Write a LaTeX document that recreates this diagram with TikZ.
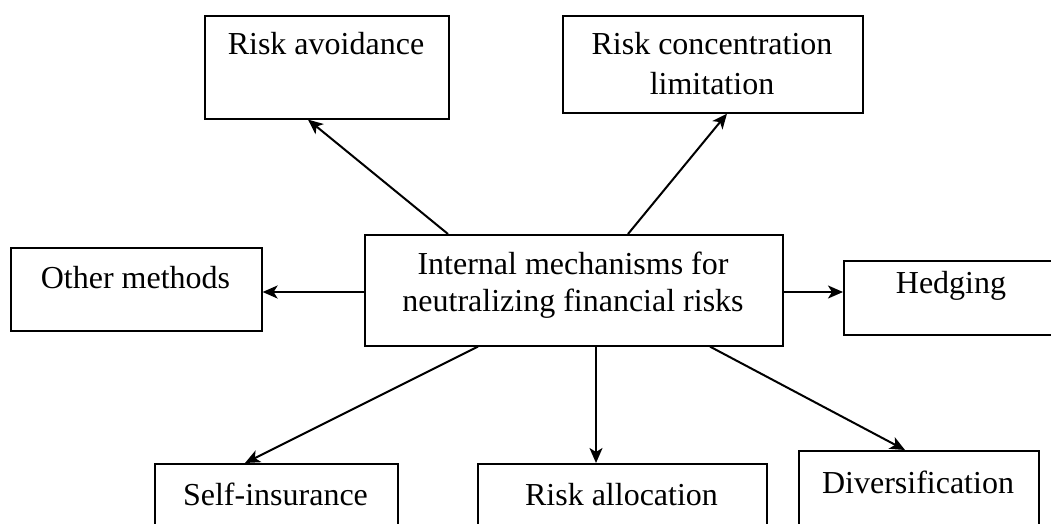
\documentclass[tikz,border=0pt]{standalone}
\usepackage{fontspec}
\setmainfont{Liberation Serif}
\usetikzlibrary{arrows.meta}
\begin{document}
\begin{tikzpicture}[x=1pt,y=-1pt,
  box/.style={draw, line width=1.6pt, rectangle, inner sep=0pt, anchor=north west},
  lbl/.style={anchor=base, inner sep=0pt, font=\fontsize{32}{37}\selectfont},
  conn/.style={line width=2pt, -{Stealth[length=15pt,width=13pt,inset=4pt]}}]
\useasboundingbox (0,0) rectangle (1051,524);
% boxes
\node[box, minimum width=244pt, minimum height=103pt] (avoid) at (204,15) {};
\node[box, minimum width=300pt, minimum height=97pt] (conc) at (562,15) {};
\node[box, minimum width=418pt, minimum height=111pt] (ctr) at (364,234) {};
\node[box, minimum width=251pt, minimum height=83pt] (other) at (10,247) {};
\node[box, minimum width=216pt, minimum height=74pt] (hedge) at (843,260) {};
\node[box, minimum width=243pt, minimum height=80pt] (self) at (154,463) {};
\node[box, minimum width=289pt, minimum height=80pt] (alloc) at (477,463) {};
\node[box, minimum width=240pt, minimum height=90pt] (divers) at (798,450) {};
% labels
\node[lbl] (tavoid) at (326,55) {Risk avoidance};
\node[lbl] (tconc1) at (712,55) {Risk concentration};
\node[lbl] (tconc2) at (712,95) {limitation};
\node[lbl] (tctr1) at (573,274) {Internal mechanisms for};
\node[lbl] (tctr2) at (573,311) {neutralizing financial risks};
\node[lbl] (tother) at (135.5,288) {Other methods};
\node[lbl] (thedge) at (951,293) {Hedging};
\node[lbl] (tself) at (275.5,505) {Self-insurance};
\node[lbl] (talloc) at (621.5,505) {Risk allocation};
\node[lbl] (tdivers) at (918,493) {Diversification};
% connectors
\draw[conn] ([xshift=84pt]ctr.north west) -- ([xshift=104pt]avoid.south west);
\draw[conn] ([xshift=264pt]ctr.north west) -- ([xshift=165pt]conc.south west);
\draw[conn] ([yshift=-58pt]ctr.north west) -- ([yshift=-45pt]other.north east);
\draw[conn] ([yshift=-58pt]ctr.north east) -- ([yshift=-32pt]hedge.north west);
\draw[conn] ([xshift=114pt]ctr.south west) -- ([xshift=91pt]self.north west);
\draw[conn] ([xshift=232pt]ctr.south west) -- ([xshift=119pt]alloc.north west);
\draw[conn] ([xshift=346pt]ctr.south west) -- ([xshift=107pt]divers.north west);
\end{tikzpicture}
\end{document}
